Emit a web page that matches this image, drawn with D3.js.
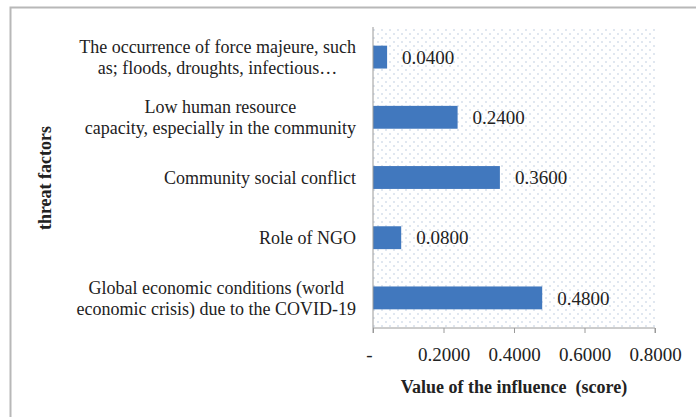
<!DOCTYPE html>
<html>
<head>
<meta charset="utf-8">
<script src="https://cdn.jsdelivr.net/npm/d3@7"></script>
<style>
  body { margin: 0; background: #fff; }
  svg text { font-family: "Liberation Serif", "Times New Roman", serif; fill: #222; }
</style>
</head>
<body>
<svg id="chart" width="696" height="417"></svg>
<script>
// categories top to bottom, "\n" marks the line breaks of the labels
var categories = [
  "The occurrence of force majeure, such\nas; floods, droughts, infectious\u2026",
  "Low human resource\ncapacity, especially in the community",
  "Community social conflict",
  "Role of NGO",
  "Global economic conditions (world\neconomic crisis) due to the COVID-19"
];
var values = [0.04, 0.24, 0.36, 0.08, 0.48];
var xTicks = [0, 0.2, 0.4, 0.6, 0.8];

var svg = d3.select("#chart");
var plot = {left: 373, right: 655, top: 27, bottom: 328};

// outer frame (only top and left edges visible in the picture)
svg.append("rect")
    .attr("x", 10.5).attr("y", 7.5)
    .attr("width", 720).attr("height", 440)
    .attr("fill", "none")
    .attr("stroke", "#b8b8b8")
    .attr("stroke-width", 2);

// dotted plot background
var pat = svg.append("defs").append("pattern")
    .attr("id", "dots")
    .attr("patternUnits", "userSpaceOnUse")
    .attr("width", 8).attr("height", 8);
pat.append("circle").attr("cx", 2).attr("cy", 2).attr("r", 0.8).attr("fill", "#b9c8dc");
pat.append("circle").attr("cx", 6).attr("cy", 6).attr("r", 0.8).attr("fill", "#b9c8dc");

svg.append("rect")
    .attr("x", plot.left).attr("y", plot.top)
    .attr("width", plot.right - plot.left)
    .attr("height", plot.bottom - plot.top)
    .attr("fill", "url(#dots)");

var x = d3.scaleLinear().domain([0, 0.8]).range([plot.left, plot.right]);
var y = d3.scaleBand().domain(categories)
    .range([plot.top, plot.bottom])
    .paddingInner(0.62).paddingOuter(0.31);

// bars
svg.selectAll("rect.bar")
    .data(values)
    .enter().append("rect")
    .attr("class", "bar")
    .attr("x", x(0))
    .attr("y", function(d, i) { return y(categories[i]); })
    .attr("width", function(d) { return x(d) - x(0); })
    .attr("height", y.bandwidth())
    .attr("fill", "#4178be");

// value labels
svg.selectAll("text.val")
    .data(values)
    .enter().append("text")
    .attr("class", "val")
    .attr("x", function(d) { return x(d) + 15; })
    .attr("y", function(d, i) { return y(categories[i]) + y.bandwidth() / 2; })
    .attr("dy", "0.35em")
    .style("font-size", "19px")
    .text(function(d) { return d.toFixed(4); });

// x axis
var xAxis = svg.append("g")
    .attr("transform", "translate(0," + plot.bottom + ")")
    .call(d3.axisBottom(x).tickValues(xTicks).tickSize(5).tickPadding(15)
        .tickFormat(function(d) { return d === 0 ? "-" : d.toFixed(4); }));
xAxis.select(".domain").attr("stroke", "#9a9a9a").attr("d", "M" + plot.left + ",5V0H" + plot.right + "V5");
xAxis.selectAll(".tick line").attr("stroke", "#9a9a9a");
xAxis.selectAll(".tick text")
    .style("font-size", "19px")
    .attr("fill", "#222")
    .attr("dx", function(d) { return d === 0 ? -4 : 0; });

// y axis line
svg.append("line")
    .attr("x1", plot.left).attr("x2", plot.left)
    .attr("y1", plot.top).attr("y2", plot.bottom)
    .attr("stroke", "#9a9a9a");

// category labels: lines centred in a block, block right-aligned
var labelRight = 356, lineGap = 21;
categories.forEach(function(c) {
  var lines = c.split("\n");
  var g = svg.append("g");
  var texts = lines.map(function(l, k) {
    return g.append("text")
        .style("font-size", "18px")
        .attr("text-anchor", "middle")
        .attr("y", y(c) + y.bandwidth() / 2 + (k - (lines.length - 1) / 2) * lineGap)
        .attr("dy", "0.35em")
        .text(l);
  });
  var w = d3.max(texts, function(t) { return t.node().getComputedTextLength(); });
  texts.forEach(function(t) { t.attr("x", labelRight - w / 2); });
});

// axis titles
svg.append("text")
    .attr("x", (plot.left + plot.right) / 2)
    .attr("y", 393)
    .attr("text-anchor", "middle")
    .style("font-size", "18px")
    .style("font-weight", "bold")
    .attr("xml:space", "preserve")
    .text("Value of the influence  (score)");

svg.append("text")
    .attr("transform", "translate(45,178) rotate(-90)")
    .attr("text-anchor", "middle")
    .attr("dy", "0.35em")
    .style("font-size", "18px")
    .style("font-weight", "bold")
    .text("threat factors");
</script>
</body>
</html>
